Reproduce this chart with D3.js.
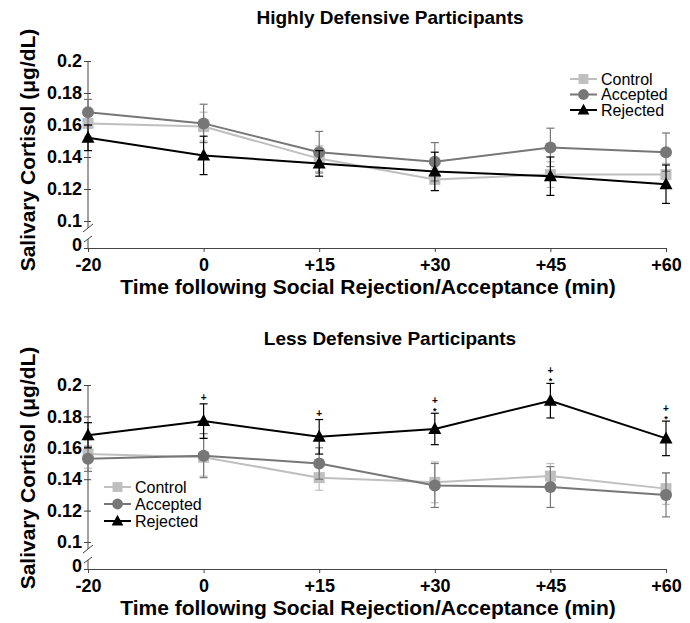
<!DOCTYPE html>
<html>
<head>
<meta charset="utf-8">
<script src="https://cdn.jsdelivr.net/npm/d3@7"></script>
<style>
  body { margin: 0; background: #fff; }
  svg { font-family: "Liberation Sans", Arial, sans-serif; }
</style>
</head>
<body>
<div id="chart"></div>
<script>
// Salivary cortisol over time, two panels

const width = 690;
const height = 623;

// time points (x categories)
const times = ["-20", "0", "+15", "+30", "+45", "+60"];
const yTicks = [0, 0.1, 0.12, 0.14, 0.16, 0.18, 0.2];
const groups = ["Control", "Accepted", "Rejected"];

// Highly defensive participants
const hiControl = [0.161, 0.159, 0.139, 0.126, 0.129, 0.129];
const hiControlSE = [0.008, 0.009, 0.008, 0.007, 0.008, 0.007];
const hiAccepted = [0.168, 0.161, 0.143, 0.137, 0.146, 0.143];
const hiAcceptedSE = [0.008, 0.012, 0.013, 0.012, 0.012, 0.012];
const hiRejected = [0.152, 0.141, 0.136, 0.131, 0.128, 0.123];
const hiRejectedSE = [0.008, 0.012, 0.008, 0.012, 0.012, 0.012];

// Less defensive participants
const loControl = [0.156, 0.154, 0.141, 0.138, 0.142, 0.134];
const loControlSE = [0.009, 0.012, 0.008, 0.013, 0.008, 0.010];
const loAccepted = [0.153, 0.155, 0.150, 0.136, 0.135, 0.130];
const loAcceptedSE = [0.008, 0.014, 0.010, 0.014, 0.013, 0.014];
const loRejected = [0.168, 0.177, 0.167, 0.172, 0.190, 0.166];
const loRejectedSE = [0.008, 0.011, 0.011, 0.010, 0.011, 0.011];
// significance marks above the Rejected points
const loMarks = ["", "+", "+", "+*", "+*", "+*"];

const colors = { Control: "#bfbfbf", Accepted: "#777777", Rejected: "#000000" };

const svg = d3.select("#chart")
  .append("svg")
  .attr("width", width)
  .attr("height", height);

// draw one marker shape
function marker(g, name, x, y, scale) {
  const s = scale || 1;
  if (name === "Control") {
    g.append("rect")
      .attr("x", x - 5.5 * s).attr("y", y - 5.5 * s)
      .attr("width", 11 * s).attr("height", 11 * s)
      .attr("fill", colors.Control);
  } else if (name === "Accepted") {
    g.append("circle")
      .attr("cx", x).attr("cy", y).attr("r", 6 * s)
      .attr("fill", colors.Accepted);
  } else {
    g.append("path")
      .attr("d", `M${x},${y - 7 * s}L${x + 6.5 * s},${y + 5 * s}L${x - 6.5 * s},${y + 5 * s}Z`)
      .attr("fill", colors.Rejected);
  }
}

function panel(opt) {
  const g = svg.append("g");

  const x = d3.scalePoint()
    .domain(times)
    .range([88, 666]);

  // broken y axis: 0 sits just below 0.1
  const y = d3.scaleLinear()
    .domain([0, 0.1, 0.2])
    .range([opt.zero, opt.y10, opt.y20]);

  // title
  g.append("text")
    .attr("x", 390).attr("y", opt.titleY)
    .attr("text-anchor", "middle")
    .attr("font-size", "19px").attr("font-weight", "bold")
    .text(opt.title);

  // y axis
  const yAxis = g.append("g")
    .attr("transform", "translate(88,0)")
    .call(d3.axisLeft(y).tickValues(yTicks)
      .tickSize(4)
      .tickFormat(d => d === 0 ? "0" : String(+d.toFixed(2))));
  yAxis.select(".domain").remove();
  yAxis.selectAll(".tick line").attr("x2", 3).attr("x1", -4).attr("stroke", "#444");
  yAxis.selectAll(".tick text")
    .attr("x", -6)
    .attr("y", d => d === 0 ? -3.5 : 0)
    .attr("font-size", "18px").attr("font-weight", "bold")
    .attr("font-family", "Liberation Sans, Arial, sans-serif")
    .attr("fill", "#000");

  // axis line with break marks
  const bk = opt.y10 + 7;
  g.append("line").attr("x1", 88).attr("x2", 88)
    .attr("y1", opt.y20).attr("y2", bk).attr("stroke", "#444");
  g.append("line").attr("x1", 88).attr("x2", 88)
    .attr("y1", bk + 11).attr("y2", opt.zero).attr("stroke", "#444");
  g.append("line").attr("x1", 83).attr("x2", 93)
    .attr("y1", bk + 4).attr("y2", bk - 4).attr("stroke", "#444");
  g.append("line").attr("x1", 84).attr("x2", 92)
    .attr("y1", bk + 14).attr("y2", bk + 8).attr("stroke", "#444");

  // x axis
  const xAxis = g.append("g")
    .attr("transform", `translate(0,${opt.zero})`)
    .call(d3.axisBottom(x).tickSize(4).tickSizeOuter(0));
  xAxis.select(".domain").attr("stroke", "#444");
  xAxis.selectAll(".tick line").attr("stroke", "#444");
  xAxis.selectAll(".tick text")
    .attr("y", 10.5)
    .attr("font-size", "18px").attr("font-weight", "bold")
    .attr("font-family", "Liberation Sans, Arial, sans-serif")
    .attr("fill", "#000");

  // axis titles
  g.append("text")
    .attr("x", 368).attr("y", opt.zero + 46)
    .attr("text-anchor", "middle")
    .attr("font-size", "21px").attr("font-weight", "bold")
    .text("Time following Social Rejection/Acceptance (min)");

  g.append("text")
    .attr("transform", `translate(35,${opt.labelY}) rotate(-90)`)
    .attr("text-anchor", "middle")
    .attr("font-size", "21px").attr("font-weight", "bold")
    .text("Salivary Cortisol (μg/dL)");

  // series
  const line = d3.line()
    .x((d, i) => x(times[i]))
    .y(d => y(d));

  opt.series.forEach(s => {
    const c = colors[s.name];
    // error bars
    const eb = g.append("g").attr("stroke", c).attr("stroke-width", 1.2);
    s.values.forEach((v, i) => {
      const cx = x(times[i]);
      const lo = y(v - s.se[i]);
      const hi = y(v + s.se[i]);
      eb.append("line").attr("x1", cx).attr("x2", cx).attr("y1", lo).attr("y2", hi);
      eb.append("line").attr("x1", cx - 4).attr("x2", cx + 4).attr("y1", lo).attr("y2", lo);
      eb.append("line").attr("x1", cx - 4).attr("x2", cx + 4).attr("y1", hi).attr("y2", hi);
    });
    g.append("path")
      .datum(s.values)
      .attr("d", line)
      .attr("fill", "none")
      .attr("stroke", c)
      .attr("stroke-width", 2);
    s.values.forEach((v, i) => marker(g, s.name, x(times[i]), y(v)));

    // significance marks: "+" with "*" below it
    if (s.marks) {
      s.values.forEach((v, i) => {
        const m = s.marks[i];
        if (!m) return;
        const capY = y(v + s.se[i]);
        const two = m.length > 1;
        g.append("text")
          .attr("x", x(times[i]))
          .attr("y", two ? capY - 9 : capY - 3)
          .attr("text-anchor", "middle")
          .attr("font-size", "10px").attr("font-weight", "bold")
          .text("+");
        if (two) {
          g.append("text")
            .attr("x", x(times[i]))
            .attr("y", capY + 1)
            .attr("text-anchor", "middle")
            .attr("font-size", "9px").attr("font-weight", "bold")
            .text("*");
        }
      });
    }
  });

  // legend
  const lg = g.append("g");
  groups.forEach((name, i) => {
    const ly = opt.legY + i * opt.legStep;
    lg.append("line")
      .attr("x1", opt.legX).attr("x2", opt.legX + 27)
      .attr("y1", ly).attr("y2", ly)
      .attr("stroke", colors[name]).attr("stroke-width", 2);
    marker(lg, name, opt.legX + 13.5, ly, 0.9);
    lg.append("text")
      .attr("x", opt.legX + 31).attr("y", ly + 5.5)
      .attr("font-size", "16px")
      .text(name);
  });
}

panel({
  title: "Highly Defensive Participants",
  titleY: 24,
  zero: 248, y10: 221, y20: 61,
  labelY: 150,
  legX: 570, legY: 79, legStep: 15.5,
  series: [
    { name: "Control", values: hiControl, se: hiControlSE },
    { name: "Accepted", values: hiAccepted, se: hiAcceptedSE },
    { name: "Rejected", values: hiRejected, se: hiRejectedSE }
  ]
});

panel({
  title: "Less Defensive Participants",
  titleY: 345,
  zero: 569, y10: 542, y20: 385,
  labelY: 468,
  legX: 104, legY: 487, legStep: 17,
  series: [
    { name: "Control", values: loControl, se: loControlSE },
    { name: "Accepted", values: loAccepted, se: loAcceptedSE },
    { name: "Rejected", values: loRejected, se: loRejectedSE, marks: loMarks }
  ]
});
</script>
</body>
</html>
